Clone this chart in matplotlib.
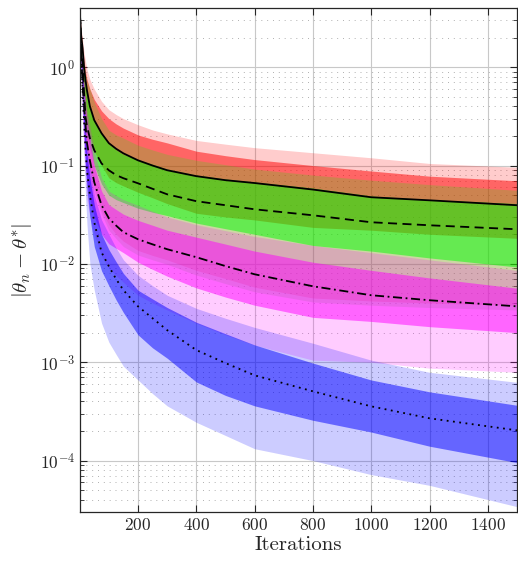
import matplotlib
matplotlib.use("Agg")
import matplotlib.pyplot as plt
import numpy as np
from matplotlib.ticker import LogLocator, NullLocator, FixedLocator

plt.rcParams['font.family'] = 'serif'
plt.rcParams['font.serif'] = ['cmr10']
plt.rcParams['mathtext.fontset'] = 'cm'
plt.rcParams['axes.formatter.use_mathtext'] = True

iters = [1, 5, 10, 15, 20, 25, 35, 50, 75, 100, 125, 150, 200, 250, 300, 400, 500, 600, 800, 1000, 1200, 1500]

# red group (solid median)
red_med = [3.38, 2.1, 1.56, 1.0, 0.737, 0.58, 0.401, 0.289, 0.213, 0.169, 0.148, 0.133, 0.113, 0.1, 0.0896, 0.078, 0.071, 0.0664, 0.057, 0.0476, 0.0443, 0.0395]
red_out_hi = [3.6, 2.5, 1.9, 1.4, 1.15, 0.95, 0.75, 0.6, 0.45, 0.37, 0.33, 0.3, 0.26, 0.23, 0.21, 0.18, 0.165, 0.152, 0.135, 0.12, 0.105, 0.096]
red_in_hi = [3.4, 2.3, 1.6, 1.15, 0.9, 0.75, 0.6, 0.47, 0.36, 0.3, 0.265, 0.24, 0.205, 0.185, 0.17, 0.14, 0.126, 0.115, 0.1, 0.088, 0.078, 0.07]
red_in_lo = [3.0, 1.6, 0.9, 0.55, 0.35, 0.27, 0.2, 0.14, 0.1, 0.075, 0.067, 0.062, 0.0535, 0.047, 0.041, 0.0327, 0.03, 0.028, 0.0235, 0.022, 0.02, 0.0182]
red_out_lo = [2.8, 1.2, 0.6, 0.33, 0.2, 0.14, 0.1, 0.06, 0.035, 0.025, 0.02, 0.017, 0.0137, 0.0122, 0.011, 0.0086, 0.0071, 0.0058, 0.0045, 0.0042, 0.004, 0.0038]

# green group (dashed median)
green_med = [3.38, 1.8, 1.05, 0.55, 0.31, 0.25, 0.19, 0.143, 0.105, 0.0895, 0.08, 0.0743, 0.066, 0.058, 0.051, 0.0434, 0.0395, 0.0359, 0.0312, 0.0265, 0.0247, 0.0225]
green_out_hi = [3.3, 2.2, 1.5, 1.1, 0.85, 0.72, 0.6, 0.44, 0.3, 0.229, 0.205, 0.19, 0.161, 0.144, 0.13, 0.113, 0.102, 0.092, 0.08, 0.071, 0.064, 0.056]
green_in_hi = [3.2, 2.0, 1.3, 0.9, 0.65, 0.5, 0.38, 0.28, 0.21, 0.165, 0.145, 0.13, 0.115, 0.103, 0.092, 0.08, 0.073, 0.068, 0.059, 0.049, 0.045, 0.041]
green_in_lo = [2.9, 1.5, 0.8, 0.45, 0.28, 0.21, 0.15, 0.1, 0.065, 0.05, 0.045, 0.042, 0.0368, 0.0335, 0.031, 0.026, 0.0228, 0.02, 0.0154, 0.0135, 0.0115, 0.0093]
green_out_lo = [2.7, 1.1, 0.55, 0.3, 0.18, 0.125, 0.09, 0.054, 0.032, 0.022, 0.018, 0.015, 0.0123, 0.011, 0.0099, 0.0077, 0.0063, 0.0052, 0.0041, 0.0038, 0.0036, 0.0034]

# magenta group (dash-dot median)
mag_med = [3.38, 1.4, 0.656, 0.4, 0.257, 0.17, 0.113, 0.0676, 0.0395, 0.0291, 0.0245, 0.021, 0.0178, 0.0158, 0.0141, 0.0117, 0.0095, 0.00784, 0.00592, 0.0048, 0.00427, 0.0037]
mag_out_hi = [3.0, 1.8, 1.2, 0.75, 0.5, 0.36, 0.25, 0.14, 0.075, 0.055, 0.0495, 0.045, 0.0394, 0.0343, 0.03, 0.025, 0.0218, 0.019, 0.0154, 0.013, 0.011, 0.0086]
mag_in_hi = [2.9, 1.6, 1.0, 0.62, 0.4, 0.29, 0.2, 0.1, 0.055, 0.04, 0.0357, 0.032, 0.0277, 0.0247, 0.022, 0.0187, 0.0159, 0.0135, 0.0104, 0.0086, 0.0072, 0.00566]
mag_in_lo = [2.6, 1.0, 0.4, 0.19, 0.1, 0.07, 0.045, 0.03, 0.02, 0.016, 0.0144, 0.013, 0.0104, 0.0088, 0.0075, 0.0057, 0.0046, 0.0038, 0.00286, 0.0026, 0.0023, 0.002]
mag_out_lo = [2.4, 0.8, 0.3, 0.14, 0.07, 0.045, 0.03, 0.02, 0.012, 0.009, 0.0076, 0.0065, 0.0048, 0.004, 0.0034, 0.00249, 0.0019, 0.00149, 0.00105, 0.001, 0.00087, 0.00079]

# blue group (dotted median)
blue_med = [3.38, 1.3, 0.583, 0.28, 0.143, 0.09, 0.0499, 0.0265, 0.0131, 0.00946, 0.007, 0.0054, 0.0037, 0.0028, 0.00212, 0.00133, 0.00098, 0.000736, 0.000506, 0.000356, 0.000269, 0.000203]
blue_out_hi = [3.6, 1.8, 1.0, 0.52, 0.3, 0.18, 0.1, 0.05, 0.028, 0.02, 0.0145, 0.011, 0.00766, 0.006, 0.0048, 0.00353, 0.0028, 0.00226, 0.00156, 0.00105, 0.00079, 0.000625]
blue_in_hi = [3.4, 1.6, 0.8, 0.4, 0.2, 0.13, 0.075, 0.04, 0.02, 0.014, 0.0105, 0.008, 0.0054, 0.0044, 0.0036, 0.00255, 0.00195, 0.0015, 0.00098, 0.00066, 0.0005, 0.000365]
blue_in_lo = [3.0, 1.1, 0.5, 0.22, 0.1, 0.058, 0.03, 0.015, 0.0085, 0.006, 0.0043, 0.0032, 0.0019, 0.0014, 0.0011, 0.00063, 0.00046, 0.00036, 0.000257, 0.000195, 0.00014, 0.0000954]
blue_out_lo = [3.0, 0.9, 0.3, 0.12, 0.05, 0.025, 0.01, 0.0054, 0.0025, 0.0016, 0.0012, 0.00091, 0.00066, 0.00048, 0.00036, 0.000245, 0.00018, 0.000132, 0.0001, 0.000072, 0.000056, 0.000034]

groups = [
    ('#ff0000', red_out_lo, red_out_hi, red_in_lo, red_in_hi, red_med, '-'),
    ('#00ff00', green_out_lo, green_out_hi, green_in_lo, green_in_hi, green_med, (0, (5, 3))),
    ('#ff00ff', mag_out_lo, mag_out_hi, mag_in_lo, mag_in_hi, mag_med, (0, (5, 2, 1, 2))),
    ('#0000ff', blue_out_lo, blue_out_hi, blue_in_lo, blue_in_hi, blue_med, (0, (1, 2.5))),
]

fig = plt.figure(figsize=(5.18, 5.63), dpi=100)
ax = fig.add_axes([0.1544, 0.0906, 0.8436, 0.8952])

# outer band (light) then inner band (darker) for each group
for color, olo, ohi, ilo, ihi, med, ls in groups:
    ax.fill_between(iters, olo, ohi, color=color, alpha=0.2, linewidth=0)
    ax.fill_between(iters, ilo, ihi, color=color, alpha=0.5, linewidth=0)

for color, olo, ohi, ilo, ihi, med, ls in groups:
    ax.plot(iters, med, color='black', linestyle=ls, linewidth=1.3)

ax.set_yscale('log')
ax.set_xlim(1, 1500)
ax.set_ylim(3e-5, 4)
ax.xaxis.set_major_locator(FixedLocator([200, 400, 600, 800, 1000, 1200, 1400]))
ax.xaxis.set_minor_locator(NullLocator())
ax.yaxis.set_major_locator(LogLocator(base=10, numticks=10))
ax.yaxis.set_minor_locator(LogLocator(base=10, subs=np.arange(2, 10), numticks=20))

ax.set_axisbelow(True)
ax.grid(True, which='major', color='#c8c8c8', linewidth=0.8)
ax.grid(True, which='minor', axis='y', color='#b0b0b0', linewidth=0.7, linestyle=(0, (1, 5)))

ax.tick_params(which='both', direction='in', top=True, right=True, labelsize=12.5, colors='#262626')
ax.tick_params(which='major', length=5)
ax.tick_params(which='minor', length=3)
for sp in ax.spines.values():
    sp.set_color('#262626')
    sp.set_linewidth(0.9)

ax.set_xlabel('Iterations', fontsize=15, color='#262626', labelpad=2)
ax.set_ylabel(r'$|\theta_n - \theta^{*}|$', fontsize=15, color='#262626', labelpad=4)

fig.savefig('out.png', dpi=100)
